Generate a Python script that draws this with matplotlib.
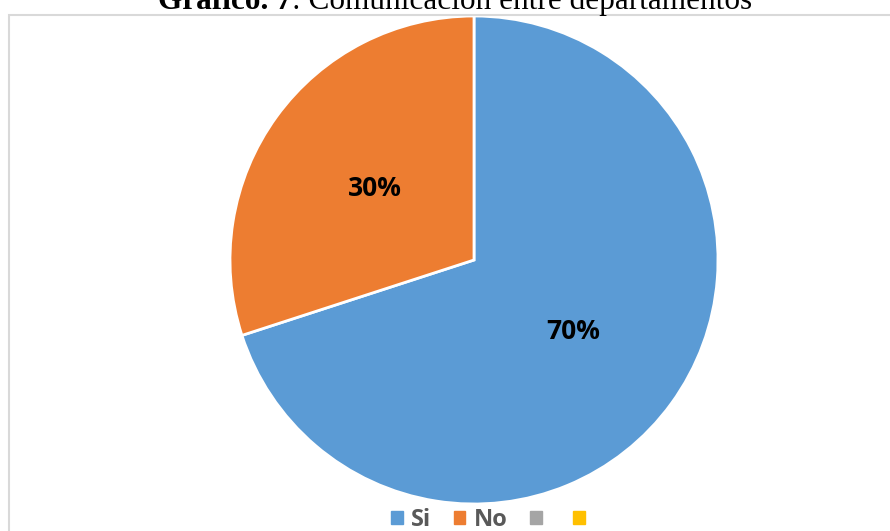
import matplotlib.pyplot as plt
from matplotlib.patches import Rectangle, Patch

categories = ["Si", "No", "", ""]
values = [70, 30, 0, 0]
colors = ["#5B9BD5", "#ED7D31", "#A5A5A5", "#FFC000"]

W, H = 890, 531
fig = plt.figure(figsize=(W / 100, H / 100), dpi=100)

# light chart-area border, open at right and bottom
fig.patches.append(Rectangle((9 / W, -0.1), 1.2, 1 - 15 / H + 0.1,
                             transform=fig.transFigure, fill=False,
                             edgecolor="#D9D9D9", linewidth=1.5))

# pie: centre (474, 260), radius 244 px
cx, cy, r = 474, 260, 244
ax = fig.add_axes([(cx - r) / W, 1 - (cy + r) / H, 2 * r / W, 2 * r / H])
wedges, _, autotexts = ax.pie(
    values[:2], colors=colors[:2], startangle=90, counterclock=False,
    autopct="%d%%", pctdistance=0.5,
    wedgeprops=dict(edgecolor="white", linewidth=2),
    textprops=dict(fontsize=19, fontweight="bold", color="black", family="Open Sans"))
ax.set_xlim(-1, 1)
ax.set_ylim(-1, 1)
ax.set_aspect("auto")

# title, partly clipped at the top edge
fig.canvas.draw()
rend = fig.canvas.get_renderer()
ty = 1 - 9 / H
t1 = fig.text(158 / W, ty, "Gráfico. 7", fontsize=22.5, fontweight="bold",
              family="Liberation Serif", va="baseline")
bb = t1.get_window_extent(rend)
fig.text(bb.x1 / W, ty, ": Comunicación entre departamentos", fontsize=22.5,
         family="Liberation Serif", va="baseline")

handles = [Patch(facecolor=c, edgecolor=c) for c in colors]
leg = fig.legend(handles, categories, loc="center", bbox_to_anchor=(492 / W, 1 - 520 / H),
                 ncol=4, frameon=False, handlelength=0.5, handleheight=0.5,
                 columnspacing=0.95, handletextpad=0.36, borderpad=0,
                 prop=dict(family="Open Sans", weight="bold", size=17))
for t in leg.get_texts():
    t.set_color("#595959")

fig.savefig("out.png", dpi=100)
